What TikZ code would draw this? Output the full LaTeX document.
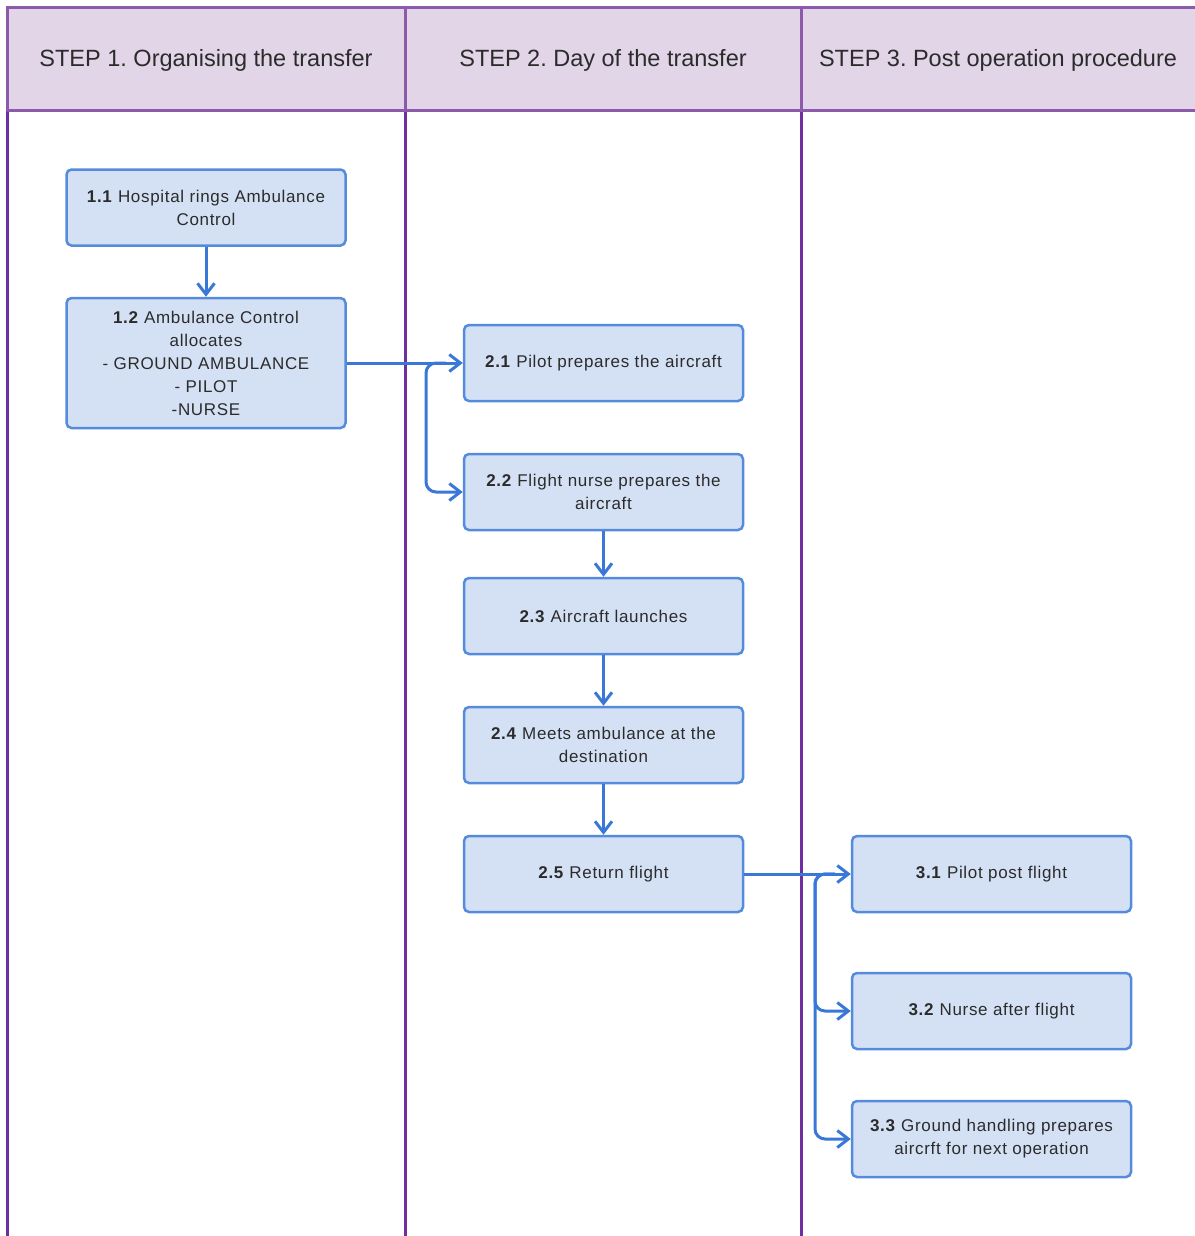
\documentclass[tikz,border=0pt]{standalone}
\usepackage{fontspec}
\setmainfont{Liberation Sans}
\newfontfamily\boxfont[LetterSpace=4]{Liberation Sans}
\usetikzlibrary{arrows.meta}
\definecolor{boxfill}{HTML}{D4E1F5}
\definecolor{boxline}{HTML}{558BDC}
\definecolor{connc}{HTML}{3A78D8}
\definecolor{hdrfill}{HTML}{E1D5E7}
\definecolor{hdrline}{HTML}{8C5AAA}
\definecolor{laneline}{HTML}{6F2F9F}
\definecolor{txt}{HTML}{2B2B2B}
\tikzset{
  stepbox/.style={draw=boxline, fill=boxfill, line width=2.5pt, rounded corners=5pt,
    minimum width=279pt, minimum height=76pt, align=center, text=txt, inner sep=4pt,
    font=\boxfont\fontsize{17}{23}\selectfont},
  hdrtext/.style={text=txt, font=\fontsize{23.5}{28}\selectfont, inner sep=0pt},
  conn/.style={draw=connc, line width=3pt, -{Straight Barb[length=11pt,width=17pt]}},
}
\begin{document}
\frenchspacing
\begin{tikzpicture}[x=1pt,y=-1pt]
\useasboundingbox (0,0) rectangle (1194,1236);
% headers
\fill[hdrfill] (7,8) rectangle (1200,111);
\draw[laneline, line width=3pt] (7,111) -- (7,1240);
\draw[laneline, line width=3pt] (405,111) -- (405,1240);
\draw[laneline, line width=3pt] (801,111) -- (801,1240);
\draw[hdrline, line width=3pt] (7,111) -- (7,8) -- (1200,8);
\draw[hdrline, line width=3pt] (7,111) -- (1200,111);
\draw[hdrline, line width=3pt] (405,8) -- (405,111);
\draw[hdrline, line width=3pt] (801,8) -- (801,111);
\node[hdrtext] (h1) at (206,60) {STEP 1. Organising the transfer};
\node[hdrtext] (h2) at (603,60) {STEP 2. Day of the transfer};
\node[hdrtext] (h3) at (998,60) {STEP 3. Post operation procedure};
% boxes
\node[stepbox] (n11) at (206,207.5) {\textbf{1.1} Hospital rings Ambulance\\Control};
\node[stepbox, minimum height=130pt] (n12) at (206,363) {\textbf{1.2} Ambulance Control\\allocates\\- GROUND AMBULANCE\\- PILOT\\-NURSE};
\node[stepbox] (n21) at (603.5,363) {\textbf{2.1} Pilot prepares the aircraft};
\node[stepbox] (n22) at (603.5,492) {\textbf{2.2} Flight nurse prepares the\\aircraft};
\node[stepbox] (n23) at (603.5,616) {\textbf{2.3} Aircraft launches};
\node[stepbox] (n24) at (603.5,745) {\textbf{2.4} Meets ambulance at the\\destination};
\node[stepbox] (n25) at (603.5,874) {\textbf{2.5} Return flight};
\node[stepbox] (n31) at (991.5,874) {\textbf{3.1} Pilot post flight};
\node[stepbox] (n32) at (991.5,1011) {\textbf{3.2} Nurse after flight};
\node[stepbox] (n33) at (991.5,1139) {\textbf{3.3} Ground handling prepares\\aircrft for next operation};
% connectors
\draw[conn] (n11) -- (n12);
\draw[conn] (n12.east) -- (n21.west);
\coordinate (b1) at (446,363);
\coordinate (k1) at (426,363);
\draw[conn, rounded corners=10pt] (b1) -- (k1) |- (n22.west);
\draw[conn] (n22) -- (n23);
\draw[conn] (n23) -- (n24);
\draw[conn] (n24) -- (n25);
\draw[conn] (n25.east) -- (n31.west);
\coordinate (b2) at (835,874);
\coordinate (k2) at (815,874);
\draw[conn, rounded corners=10pt] (b2) -- (k2) |- (n32.west);
\draw[conn, rounded corners=10pt] (b2) -- (k2) |- (n33.west);
\end{tikzpicture}
\end{document}
